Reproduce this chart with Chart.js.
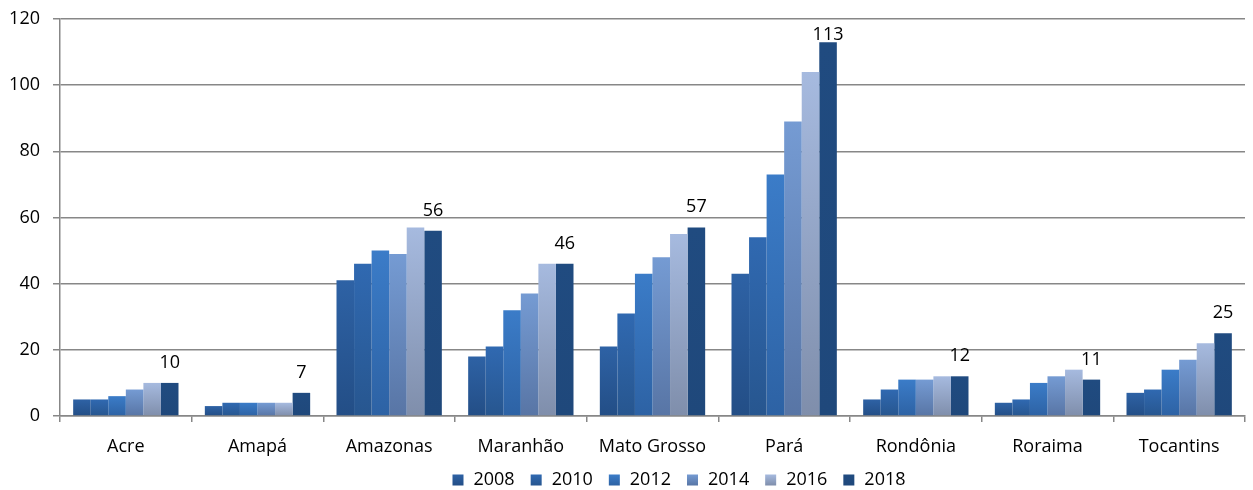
<!DOCTYPE html>
<html>
<head>
<meta charset="utf-8">
<script src="https://cdn.jsdelivr.net/npm/chart.js@4/dist/chart.umd.min.js"></script>
<style>
  html, body { margin: 0; padding: 0; background: #ffffff; }
  #wrap { width: 1253px; height: 490px; position: relative; }
</style>
</head>
<body>
<div id="wrap"><canvas id="c" width="1253" height="490"></canvas></div>
<script>
const categories = ["Acre", "Amapá", "Amazonas", "Maranhão", "Mato Grosso", "Pará", "Rondônia", "Roraima", "Tocantins"];
const seriesNames = ["2008", "2010", "2012", "2014", "2016", "2018"];
const v2008 = [5, 3, 41, 18, 21, 43, 5, 4, 7];
const v2010 = [5, 4, 46, 21, 31, 54, 8, 5, 8];
const v2012 = [6, 4, 50, 32, 43, 73, 11, 10, 14];
const v2014 = [8, 4, 49, 37, 48, 89, 11, 12, 17];
const v2016 = [10, 4, 57, 46, 55, 104, 12, 14, 22];
const v2018 = [10, 7, 56, 46, 57, 113, 12, 11, 25];
const yTicks = [0, 20, 40, 60, 80, 100, 120];

const seriesValues = [v2008, v2010, v2012, v2014, v2016, v2018];
// top colour, bottom colour for each series (gradient as in the original)
const seriesColors = [
  ["#2e62a5", "#234e86"],
  ["#3069b1", "#27568f"],
  ["#3b7cc8", "#2d62a4"],
  ["#759bd3", "#5875a5"],
  ["#a6badf", "#7f8eab"],
  ["#204b80", "#1f487b"]
];

const FONT = "'Open Sans', 'Liberation Sans', sans-serif";

function gradientFor(idx) {
  return function (ctx) {
    const chart = ctx.chart;
    const area = chart.chartArea;
    if (!area || ctx.type !== 'data') return seriesColors[idx][0];
    const yScale = chart.scales.y;
    const top = yScale.getPixelForValue(ctx.raw);
    const base = yScale.getPixelForValue(0);
    if (!(base > top)) return seriesColors[idx][0];
    const g = chart.ctx.createLinearGradient(0, top, 0, base);
    g.addColorStop(0, seriesColors[idx][0]);
    g.addColorStop(1, seriesColors[idx][1]);
    return g;
  };
}

const datasets = seriesNames.map((name, i) => ({
  label: name,
  data: seriesValues[i],
  backgroundColor: gradientFor(i),
  borderWidth: 0,
  categoryPercentage: 0.8,
  barPercentage: 1.0
}));

const lastLabels = {
  id: 'lastLabels',
  afterDatasetsDraw(chart) {
    const ctx = chart.ctx;
    const di = chart.data.datasets.length - 1;
    const meta = chart.getDatasetMeta(di);
    const area = chart.chartArea;
    ctx.save();
    ctx.font = "18px " + FONT;
    ctx.fillStyle = "#000000";
    ctx.textAlign = "center";
    ctx.textBaseline = "alphabetic";
    meta.data.forEach((bar, j) => {
      const val = chart.data.datasets[di].data[j];
      let y = bar.y - 15;
      const minY = area.top + 21;
      if (y < minY) y = minY;
      ctx.fillText(String(val), bar.x, y);
    });
    ctx.restore();
  }
};

// Legend below the axis, drawn from the series names and colours
const bottomLegend = {
  id: 'bottomLegend',
  afterDraw(chart) {
    const ctx = chart.ctx;
    ctx.save();
    ctx.font = "18px " + FONT;
    ctx.textBaseline = "middle";
    ctx.textAlign = "left";
    const box = 11, gapText = 10, gapItem = 16;
    let total = 0;
    const widths = seriesNames.map(n => ctx.measureText(n).width);
    widths.forEach((w, i) => { total += box + gapText + w + (i < widths.length - 1 ? gapItem : 0); });
    const centerX = 679;
    const cy = 480;
    let x = centerX - total / 2;
    seriesNames.forEach((n, i) => {
      const g = ctx.createLinearGradient(0, cy - box / 2, 0, cy + box / 2);
      g.addColorStop(0, seriesColors[i][0]);
      g.addColorStop(1, seriesColors[i][1]);
      ctx.fillStyle = g;
      ctx.fillRect(x, cy - box / 2, box, box);
      ctx.fillStyle = "#000000";
      ctx.fillText(n, x + box + gapText, cy);
      x += box + gapText + widths[i] + gapItem;
    });
    ctx.restore();
  }
};

new Chart(document.getElementById('c'), {
  type: 'bar',
  data: { labels: categories, datasets: datasets },
  options: {
    responsive: false,
    animation: false,
    devicePixelRatio: 1,
    layout: { padding: { left: 0, right: 8, top: 19, bottom: 0 } },
    plugins: {
      legend: { display: false },
      tooltip: { enabled: false },
      title: { display: false }
    },
    scales: {
      x: {
        offset: true,
        afterFit(scale) { scale.height = 74; scale.paddingLeft = 0; scale.paddingRight = 0; },
        grid: {
          offset: true,
          drawOnChartArea: false,
          drawTicks: true,
          tickLength: 6,
          color: '#878787',
          lineWidth: 1.5
        },
        border: { display: true, color: '#878787', width: 1.5 },
        ticks: {
          font: { family: FONT, size: 18 },
          color: '#000000',
          padding: 14,
          maxRotation: 0,
          autoSkip: false
        }
      },
      y: {
        min: 0,
        max: 120,
        afterFit(scale) { scale.width = 60; scale.paddingTop = 0; scale.paddingBottom = 0; },
        afterBuildTicks(scale) { scale.ticks = yTicks.map(v => ({ value: v })); },
        grid: {
          color: '#878787',
          lineWidth: 1.5,
          tickLength: 7
        },
        border: { display: true, color: '#878787', width: 1.5 },
        ticks: {
          font: { family: FONT, size: 18 },
          color: '#000000',
          padding: 13
        }
      }
    }
  },
  plugins: [lastLabels, bottomLegend]
});
</script>
</body>
</html>
